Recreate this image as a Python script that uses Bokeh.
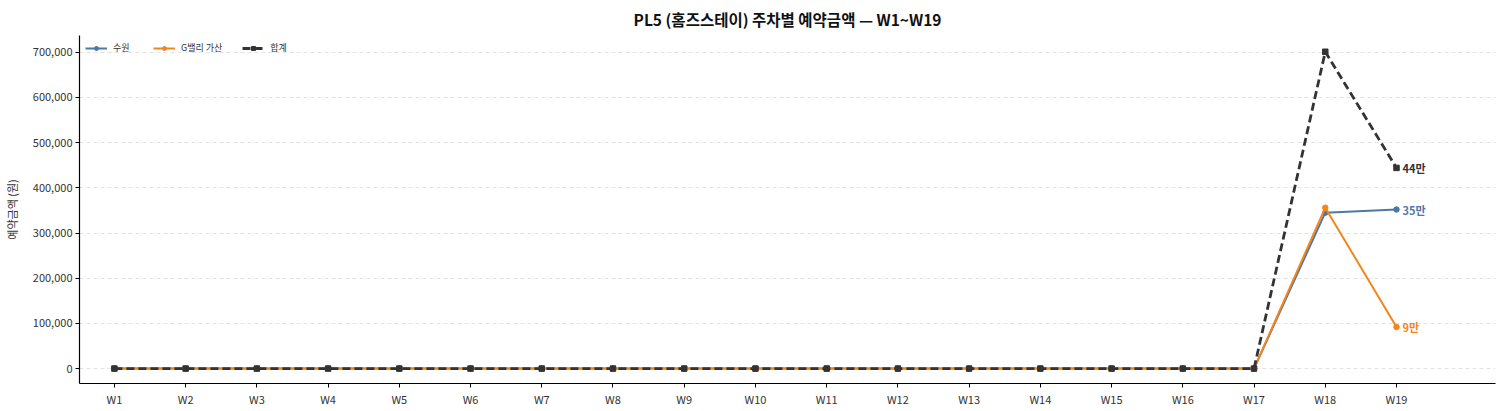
from bokeh.plotting import figure
from bokeh.models import (ColumnDataSource, NumeralTickFormatter, FixedTicker,
                          Legend, LegendItem, Range1d)
from bokeh.core.properties import value
from bokeh.embed import file_html
from bokeh.resources import INLINE

weeks = [f"W{i}" for i in range(1, 20)]
suwon = [0]*17 + [345000, 352000]
gvalley = [0]*17 + [356000, 92000]
total = [0]*17 + [701000, 444000]
end_labels = ["35만", "9만", "44만"]

FONT = "Noto Sans CJK KR"
C_SUWON = "#4C78A8"
C_GV = "#F58518"
C_TOT = "#333333"

x = list(range(1, len(weeks) + 1))

p = figure(width=1503, height=411, output_backend="svg", toolbar_location=None,
           x_range=Range1d(0.51, 20.39), y_range=Range1d(-33000, 737000),
           min_border_left=79, min_border_right=8, min_border_top=3, min_border_bottom=28)

p.title.text = "PL5 (홈즈스테이) 주차별 예약금액 — W1~W19"
p.title.align = "center"
p.title.text_font = FONT
p.title.text_font_size = "15.5px"
p.title.text_font_style = "bold"
p.title.text_color = "#111111"
p.title.standoff = 11

p.outline_line_color = None
p.xgrid.grid_line_color = None
p.ygrid.grid_line_color = "#e3e3e3"
p.ygrid.grid_line_dash = "4 3"
p.ygrid.grid_line_width = 1

p.xaxis.ticker = FixedTicker(ticks=x)
p.xaxis.major_label_overrides = {i: w for i, w in zip(x, weeks)}
p.yaxis.ticker = FixedTicker(ticks=list(range(0, 800000, 100000)))
p.yaxis.formatter = NumeralTickFormatter(format="0,0")
for ax in (p.xaxis, p.yaxis):
    ax.axis_line_color = "black"
    ax.axis_line_width = 1.2
    ax.major_tick_line_color = "black"
    ax.major_tick_out = 4
    ax.major_tick_in = 0
    ax.minor_tick_line_color = None
    ax.major_label_text_font = FONT
    ax.major_label_text_font_size = "11px"
    ax.major_label_text_color = "#333333"
    ax.major_label_standoff = 3
p.yaxis.axis_label = "예약금액 (원)"
p.yaxis.axis_label_text_font = FONT
p.yaxis.axis_label_text_font_size = "11px"
p.yaxis.axis_label_text_font_style = "normal"
p.yaxis.axis_label_text_color = "#333333"
p.yaxis.axis_label_standoff = 10

src = ColumnDataSource(dict(x=x, suwon=suwon, gv=gvalley, tot=total))

l1 = p.line("x", "suwon", source=src, color=C_SUWON, line_width=2)
m1 = p.scatter("x", "suwon", source=src, color=C_SUWON, size=5.5, marker="circle")
l2 = p.line("x", "gv", source=src, color=C_GV, line_width=2)
m2 = p.scatter("x", "gv", source=src, color=C_GV, size=5.5, marker="circle")
l3 = p.line("x", "tot", source=src, color=C_TOT, line_width=2.8, line_dash="8 4")
m3 = p.scatter("x", "tot", source=src, color=C_TOT, size=5.5, marker="square")

last = len(x)
lab_src = ColumnDataSource(dict(
    x=[last, last, last],
    y=[suwon[-1], gvalley[-1], total[-1]],
    t=end_labels,
    c=[C_SUWON, C_GV, C_TOT],
))
p.text("x", "y", text="t", source=lab_src, text_color="c",
       text_font=value(FONT), text_font_size="11px", text_font_style="bold",
       text_align="left", text_baseline="middle", x_offset=6)

legend = Legend(items=[
    LegendItem(label="수원", renderers=[l1, m1]),
    LegendItem(label="G밸리 가산", renderers=[l2, m2]),
    LegendItem(label="합계", renderers=[l3, m3]),
], location="top_left", orientation="horizontal")
legend.background_fill_alpha = 0
legend.border_line_color = None
legend.label_text_font = FONT
legend.label_text_font_size = "9px"
legend.label_text_color = "#333333"
legend.glyph_width = 22
legend.glyph_height = 10
legend.spacing = 20
legend.padding = 2
legend.margin = 6
legend.label_standoff = 6
p.add_layout(legend)

open("out.html", "w").write(file_html(p, INLINE))
